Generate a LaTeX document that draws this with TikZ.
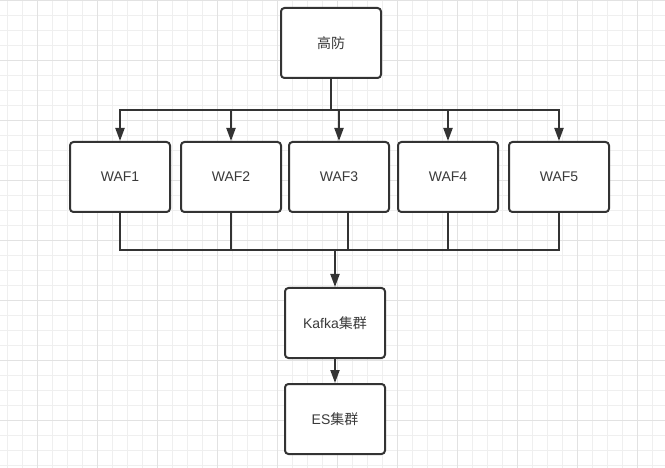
\documentclass[tikz,border=0pt]{standalone}
\usepackage{fontspec}
\setmainfont{Liberation Sans}
\newfontfamily\cjk{Noto Sans CJK SC}
\usetikzlibrary{arrows.meta}
\definecolor{ink}{HTML}{333333}
\definecolor{txt}{HTML}{3A3A3A}
\definecolor{gridminor}{HTML}{EFEFEF}
\definecolor{gridmajor}{HTML}{E2E2E2}
\tikzset{
  box/.style={draw=ink, line width=2pt, rounded corners=3.5pt, fill=white,
    minimum width=100pt, minimum height=70pt, inner sep=0pt, text=txt,
    font=\fontsize{14pt}{17pt}\selectfont},
  link/.style={draw=ink, line width=2pt},
  arr/.style={link, -{Triangle[length=13pt,width=9pt]}},
}
\begin{document}
\begin{tikzpicture}[x=1pt,y=-1pt]
\useasboundingbox (0,0) rectangle (665,468);
\fill[white] (0,0) rectangle (665,468);
% grid
\foreach \i in {0,...,44} {
  \pgfmathsetmacro\xx{7+15*\i}
  \draw[gridminor, line width=0.8pt] (\xx,0) -- (\xx,468);
}
\foreach \i in {0,...,31} {
  \pgfmathsetmacro\yy{15*\i}
  \draw[gridminor, line width=0.8pt] (0,\yy) -- (665,\yy);
}
\foreach \i in {0,...,10} {
  \pgfmathsetmacro\xx{37+60*\i}
  \draw[gridmajor, line width=0.8pt] (\xx,0) -- (\xx,468);
}
\foreach \i in {0,...,7} {
  \pgfmathsetmacro\yy{60*\i}
  \draw[gridmajor, line width=0.8pt] (0,\yy) -- (665,\yy);
}
% nodes
\node[box] (gf) at (331,43) {\cjk 高防};
\node[box] (w1) at (120,177) {WAF1};
\node[box] (w2) at (231,177) {WAF2};
\node[box] (w3) at (339,177) {WAF3};
\node[box] (w4) at (448,177) {WAF4};
\node[box] (w5) at (559,177) {WAF5};
\node[box] (kf) at (335,323) {Kafka{\cjk 集群}};
\node[box] (es) at (335,419) {ES{\cjk 集群}};
% top connectors
\coordinate (bt) at (331,110);
\foreach \w in {w1,w2,w3,w4,w5} {
  \draw[arr] (gf.south) -- (bt) -| (\w.north);
}
% bottom connectors
\coordinate (bb) at (335,250);
\coordinate (w3b) at (348,212);
\draw[link] (w1.south) |- (bb);
\draw[link] (w2.south) |- (bb);
\draw[link] (w3b) |- (bb);
\draw[link] (w4.south) |- (bb);
\draw[link] (w5.south) |- (bb);
\draw[arr] (bb) -- (kf.north);
\draw[arr] (kf.south) -- (es.north);
\end{tikzpicture}
\end{document}
